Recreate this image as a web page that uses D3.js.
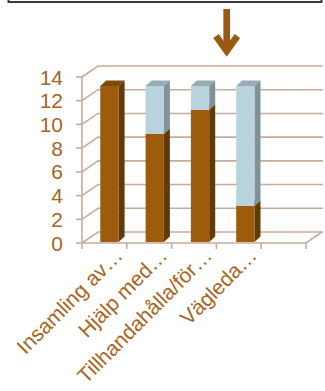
<!DOCTYPE html>
<html>
<head>
<meta charset="utf-8">
<script src="https://cdn.jsdelivr.net/npm/d3@7"></script>
<style>
  body { margin: 0; background: #fff; }
  svg { display: block; }
</style>
</head>
<body>
<div id="chart"></div>
<script>
// --- Data ---
const categories = ["Insamling av…", "Hjälp med…", "Tillhandahålla/för…", "Vägleda…", ""];
const brownValues = [13, 9, 11, 3];
const blueValues = [0, 4, 2, 10];
const yTicks = [0, 2, 4, 6, 8, 10, 12, 14];

// --- Rendering ---
const width = 325, height = 391;
const textColor = "#a5661f", gridColor = "#c9ab9b";
const depth = { dx: 16, dy: -11 };      // floor / wall depth
const barDepth = { dx: 6, dy: -5.5 };   // column depth

const svg = d3.select("#chart").append("svg")
    .attr("width", width)
    .attr("height", height)
    .style("font-family", "'Liberation Sans', Arial, sans-serif");

// frame of the box above the chart
svg.append("rect")
    .attr("x", 8.5).attr("y", -20)
    .attr("width", 313).attr("height", 22)
    .attr("fill", "none")
    .attr("stroke", "#3a3a3a")
    .attr("stroke-width", 2);

// arrow
svg.append("line")
    .attr("x1", 226.7).attr("y1", 9)
    .attr("x2", 226.7).attr("y2", 52)
    .attr("stroke", "#9b5a14").attr("stroke-width", 6.7);
svg.append("polyline")
    .attr("points", "216,36 226.7,51 237.4,36")
    .attr("fill", "none")
    .attr("stroke", "#9b5a14")
    .attr("stroke-width", 6.7)
    .attr("stroke-linejoin", "miter");

const x = d3.scaleBand()
    .domain(categories)
    .range([82, 306])
    .padding(0);

const yFront = d3.scaleLinear().domain([0, 14]).range([243, 77]);
const yBar = d3.scaleLinear().domain([0, 14]).range([242, 74]);

// walls & gridlines
const grid = svg.append("g")
    .attr("fill", "none")
    .attr("stroke", gridColor)
    .attr("stroke-width", 1.6);

yTicks.forEach(v => {
    const y0 = yFront(v);
    grid.append("path")
        .attr("d", `M82,${y0}L${82 + depth.dx},${y0 + depth.dy}L323,${y0 + depth.dy}`);
    grid.append("line")
        .attr("x1", 76).attr("x2", 82)
        .attr("y1", y0).attr("y2", y0);
});

// left axis and floor front edge
grid.append("line")
    .attr("x1", 82).attr("x2", 82)
    .attr("y1", yFront(14)).attr("y2", 249);
grid.append("path")
    .attr("d", `M82,${yFront(0)}L306,${yFront(0)}L${306 + depth.dx},${yFront(0) + depth.dy}`);

// category ticks
categories.forEach(c => {
    const xe = x(c) + x.bandwidth();
    grid.append("line")
        .attr("x1", xe).attr("x2", xe)
        .attr("y1", yFront(0)).attr("y2", 249);
});

// y labels
svg.append("g")
    .selectAll("text")
    .data(yTicks)
    .join("text")
    .attr("x", 63)
    .attr("y", d => yFront(d))
    .attr("dy", "0.36em")
    .attr("text-anchor", "end")
    .attr("fill", textColor)
    .style("font-size", "21px")
    .text(d => d);

// columns
const bw = 18.3;
function drawBox(g, x0, yTop, yBottom, colors) {
    const x1 = x0 + bw;
    // top face
    g.append("path")
        .attr("d", `M${x0},${yTop}L${x0 + barDepth.dx},${yTop + barDepth.dy}L${x1 + barDepth.dx},${yTop + barDepth.dy}L${x1},${yTop}Z`)
        .attr("fill", colors.top);
    // side face
    g.append("path")
        .attr("d", `M${x1},${yTop}L${x1 + barDepth.dx},${yTop + barDepth.dy}L${x1 + barDepth.dx},${yBottom + barDepth.dy}L${x1},${yBottom}Z`)
        .attr("fill", colors.side);
    // front face
    g.append("rect")
        .attr("x", x0).attr("y", yTop)
        .attr("width", bw).attr("height", yBottom - yTop)
        .attr("fill", colors.front);
}

const brown = { front: "#9c5c0b", side: "#613a06", top: "#7e4a0a" };
const blue = { front: "#b9d3dc", side: "#7f9399", top: "#97adb4" };

const bars = svg.append("g");
brownValues.forEach((v, i) => {
    const x0 = x(categories[i]) + 18.3 + i * 0.5;
    const b = blueValues[i];
    drawBox(bars, x0, yBar(v), yBar(0), brown);
    if (b > 0) drawBox(bars, x0, yBar(v + b), yBar(v), blue);
});

// x labels
svg.append("g")
    .selectAll("text")
    .data(categories.filter(c => c !== ""))
    .join("text")
    .attr("transform", d => `translate(${x(d) + x.bandwidth() - 3},257) rotate(-45)`)
    .attr("text-anchor", "end")
    .attr("fill", textColor)
    .style("font-size", "21px")
    .text(d => d);
</script>
</body>
</html>
